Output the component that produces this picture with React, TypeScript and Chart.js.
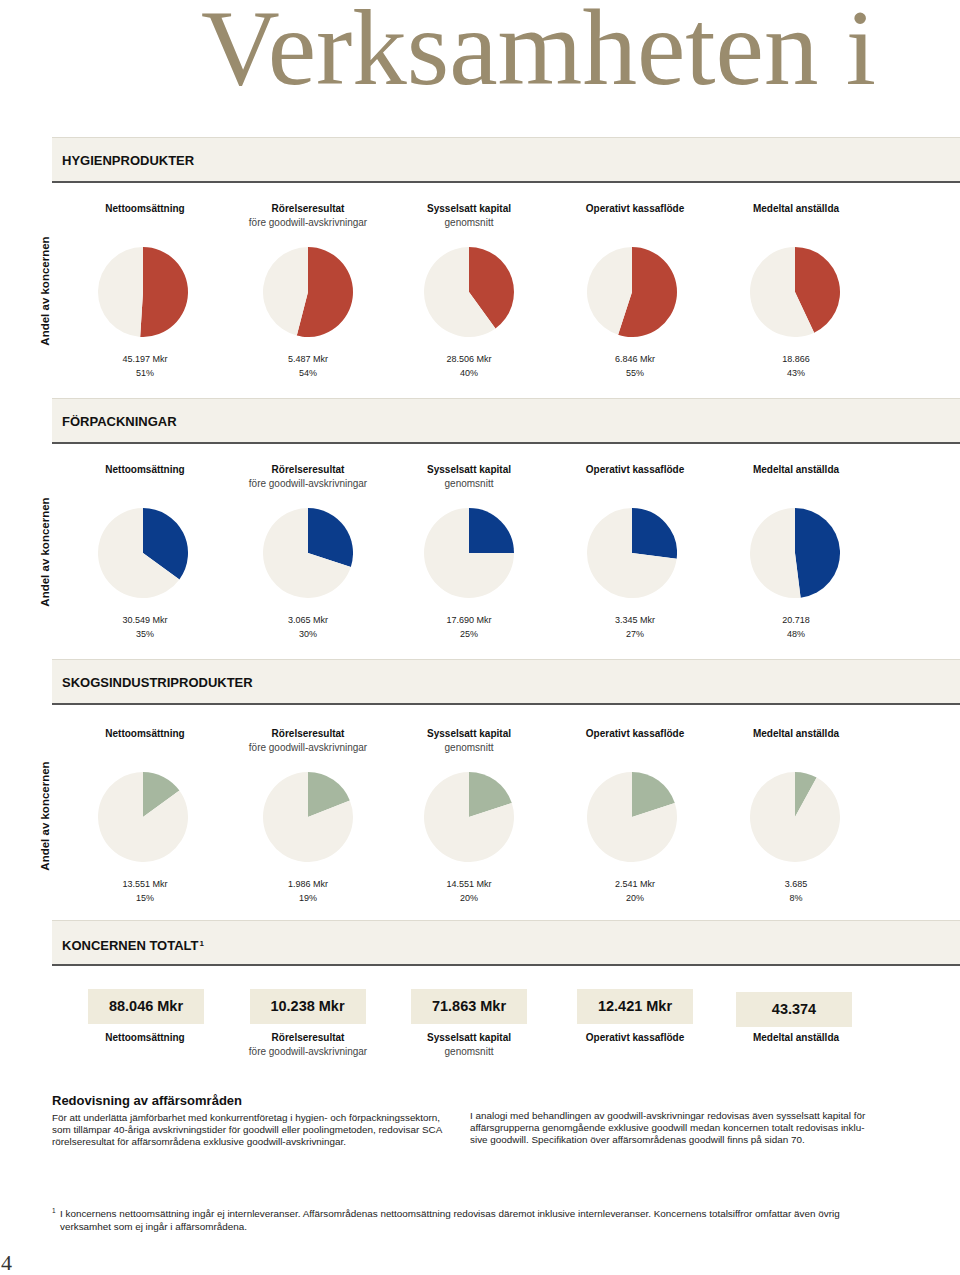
import React, { useEffect, useRef } from "react";
import { Chart, registerables } from "chart.js";

Chart.register(...registerables);

// ---------- data ----------
const pageTitle = "Verksamheten i";
const segmentNames = ["HYGIENPRODUKTER", "FÖRPACKNINGAR", "SKOGSINDUSTRIPRODUKTER"];
const segmentColors = ["#b84535", "#0b3c8b", "#a6b79f"];
const restColor = "#f3f0e9";
const metricTitles = ["Nettoomsättning", "Rörelseresultat", "Sysselsatt kapital", "Operativt kassaflöde", "Medeltal anställda"];
const metricSubtitles = ["", "före goodwill-avskrivningar", "genomsnitt", "", ""];
const rowLabel = "Andel av koncernen";

const hygienShares = [51, 54, 40, 55, 43];
const hygienValues = ["45.197 Mkr", "5.487 Mkr", "28.506 Mkr", "6.846 Mkr", "18.866"];
const forpackningShares = [35, 30, 25, 27, 48];
const forpackningValues = ["30.549 Mkr", "3.065 Mkr", "17.690 Mkr", "3.345 Mkr", "20.718"];
const skogShares = [15, 19, 20, 20, 8];
const skogValues = ["13.551 Mkr", "1.986 Mkr", "14.551 Mkr", "2.541 Mkr", "3.685"];

const totalTitle = "KONCERNEN TOTALT";
const totalValues = ["88.046 Mkr", "10.238 Mkr", "71.863 Mkr", "12.421 Mkr", "43.374"];

const notesTitle = "Redovisning av affärsområden";
const notesLeft = [
  "För att underlätta jämförbarhet med konkurrentföretag i hygien- och förpackningssektorn,",
  "som tillämpar 40-åriga avskrivningstider för goodwill eller poolingmetoden, redovisar SCA",
  "rörelseresultat för affärsområdena exklusive goodwill-avskrivningar.",
];
const notesRight = [
  "I analogi med behandlingen av goodwill-avskrivningar redovisas även sysselsatt kapital för",
  "affärsgrupperna genomgående exklusive goodwill medan koncernen totalt redovisas inklu-",
  "sive goodwill. Specifikation över affärsområdenas goodwill finns på sidan 70.",
];
const footnote = [
  "I koncernens nettoomsättning ingår ej internleveranser. Affärsområdenas nettoomsättning redovisas däremot inklusive internleveranser. Koncernens totalsiffror omfattar även övrig",
  "verksamhet som ej ingår i affärsområdena.",
];
const pageNumber = "4";

const segmentShares = [hygienShares, forpackningShares, skogShares];
const segmentValues = [hygienValues, forpackningValues, skogValues];

// ---------- layout ----------
const SANS = "'Liberation Sans', Arial, Helvetica, sans-serif";
const colText = [145, 308, 469, 635, 796];
const colPie = [143, 307.5, 469, 632, 795];
const sectionTops = [137, 398, 659];
const sectionShift = [0, 0, 3];
const PIE = 90;

function Pie({ share, color }: { share: number; color: string }) {
  const ref = useRef<HTMLCanvasElement | null>(null);
  useEffect(() => {
    if (!ref.current) return;
    const chart = new Chart(ref.current, {
      type: "pie",
      data: {
        labels: ["Andel", "Övrigt"],
        datasets: [
          {
            data: [share, 100 - share],
            backgroundColor: [color, restColor],
            borderWidth: 0,
          },
        ],
      },
      options: {
        animation: false,
        responsive: false,
        maintainAspectRatio: false,
        events: [],
        layout: { padding: 0 },
        plugins: { legend: { display: false }, tooltip: { enabled: false } },
      },
    });
    return () => chart.destroy();
  }, [share, color]);
  return <canvas ref={ref} width={PIE} height={PIE} style={{ width: PIE, height: PIE, display: "block" }} />;
}

function CenterText({ x, y, w = 200, size, bold, color = "#111", children, lh }: any) {
  const lineH = lh || size + 4;
  return (
    <div
      style={{
        position: "absolute",
        left: x - w / 2,
        top: y - lineH / 2,
        width: w,
        textAlign: "center",
        fontFamily: SANS,
        fontSize: size,
        fontWeight: bold ? 700 : 400,
        lineHeight: `${lineH}px`,
        color,
        whiteSpace: "nowrap",
      }}
    >
      {children}
    </div>
  );
}

function Band({ top, label, sup }: { top: number; label: string; sup?: string }) {
  return (
    <>
      <div
        style={{
          position: "absolute",
          left: 52,
          top,
          width: 908,
          height: 43,
          background: "#f3f1ea",
          borderTop: "1.5px solid #dedbd0",
          borderBottom: "2px solid #555555",
          boxSizing: "content-box",
        }}
      />
      <div
        style={{
          position: "absolute",
          left: 62,
          top: top + 16,
          fontFamily: SANS,
          fontSize: 13,
          fontWeight: 700,
          lineHeight: "16px",
          color: "#111",
          whiteSpace: "nowrap",
        }}
      >
        {label}
        {sup ? <span style={{ fontSize: 8, verticalAlign: "4px", marginLeft: 1 }}>{sup}</span> : null}
      </div>
    </>
  );
}

function MetricHeaders({ y }: { y: number }) {
  return (
    <>
      {metricTitles.map((t, i) => (
        <React.Fragment key={i}>
          <CenterText x={colText[i]} y={y} size={10} bold>
            {t}
          </CenterText>
          {metricSubtitles[i] ? (
            <CenterText x={colText[i]} y={y + 14} size={10} color="#444">
              {metricSubtitles[i]}
            </CenterText>
          ) : null}
        </React.Fragment>
      ))}
    </>
  );
}

function Segment({ idx }: { idx: number }) {
  const top = sectionTops[idx];
  const s = sectionShift[idx];
  const pieY = top + 155 + s;
  return (
    <>
      <Band top={top} label={segmentNames[idx]} />
      <MetricHeaders y={top + 72 + s} />
      <div
        style={{
          position: "absolute",
          left: 45 - 80,
          top: pieY - 1 - 8,
          width: 160,
          height: 16,
          transform: "rotate(-90deg)",
          textAlign: "center",
          fontFamily: SANS,
          fontSize: 11.5,
          fontWeight: 700,
          lineHeight: "16px",
          color: "#111",
          whiteSpace: "nowrap",
        }}
      >
        {rowLabel}
      </div>
      {segmentShares[idx].map((share, i) => (
        <React.Fragment key={i}>
          <div style={{ position: "absolute", left: colPie[i] - PIE / 2, top: pieY - PIE / 2 }}>
            <Pie share={share} color={segmentColors[idx]} />
          </div>
          <CenterText x={colText[i]} y={top + 222 + s} size={9} color="#222">
            {segmentValues[idx][i]}
          </CenterText>
          <CenterText x={colText[i]} y={top + 236 + s} size={9} color="#222">
            {share}%
          </CenterText>
        </React.Fragment>
      ))}
    </>
  );
}

export default function App() {
  const boxCenters = [146, 307.5, 469, 635, 794];
  const boxTops = [989, 989, 989, 989, 992];
  return (
    <div
      style={{
        position: "absolute",
        left: 0,
        top: 0,
        width: 960,
        height: 1275,
        overflow: "hidden",
        background: "#ffffff",
      }}
    >
      <div
        style={{
          position: "absolute",
          left: 201,
          top: 0,
          fontFamily: "'Liberation Serif', 'Times New Roman', serif",
          fontSize: 109,
          lineHeight: "96px",
          color: "#9a8c6e",
          whiteSpace: "nowrap",
        }}
      >
        {pageTitle}
      </div>

      {[0, 1, 2].map((i) => (
        <Segment key={i} idx={i} />
      ))}

      <Band top={920} label={totalTitle} sup="1" />
      {totalValues.map((v, i) => (
        <div
          key={i}
          style={{
            position: "absolute",
            left: boxCenters[i] - 58,
            top: boxTops[i],
            width: 116,
            height: 35,
            background: "#efebdc",
            fontFamily: SANS,
            fontSize: 14.5,
            fontWeight: 700,
            lineHeight: "35px",
            textAlign: "center",
            color: "#111",
          }}
        >
          {v}
        </div>
      ))}
      <MetricHeaders y={1038} />

      <div
        style={{
          position: "absolute",
          left: 52,
          top: 1093,
          fontFamily: SANS,
          fontSize: 13,
          fontWeight: 700,
          lineHeight: "16px",
          color: "#111",
          whiteSpace: "nowrap",
        }}
      >
        {notesTitle}
      </div>
      <div
        style={{
          position: "absolute",
          left: 52,
          top: 1112,
          fontFamily: SANS,
          fontSize: 9.9,
          lineHeight: "12px",
          color: "#222",
          whiteSpace: "nowrap",
        }}
      >
        {notesLeft.map((l, i) => (
          <div key={i}>{l}</div>
        ))}
      </div>
      <div
        style={{
          position: "absolute",
          left: 470,
          top: 1110,
          fontFamily: SANS,
          fontSize: 9.9,
          lineHeight: "12px",
          color: "#222",
          whiteSpace: "nowrap",
        }}
      >
        {notesRight.map((l, i) => (
          <div key={i}>{l}</div>
        ))}
      </div>

      <div
        style={{
          position: "absolute",
          left: 52,
          top: 1207,
          fontFamily: SANS,
          fontSize: 6.5,
          lineHeight: "8px",
          color: "#222",
        }}
      >
        1
      </div>
      <div
        style={{
          position: "absolute",
          left: 60,
          top: 1207,
          fontFamily: SANS,
          fontSize: 9.9,
          lineHeight: "13px",
          color: "#222",
          whiteSpace: "nowrap",
        }}
      >
        {footnote.map((l, i) => (
          <div key={i}>{l}</div>
        ))}
      </div>

      <div
        style={{
          position: "absolute",
          left: 1,
          top: 1251,
          fontFamily: "'Liberation Serif', 'Times New Roman', serif",
          fontSize: 22,
          lineHeight: "24px",
          color: "#333",
        }}
      >
        {pageNumber}
      </div>
    </div>
  );
}
